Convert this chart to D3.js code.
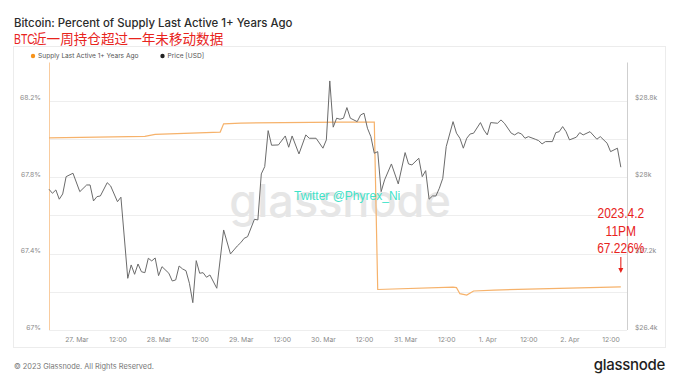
<!DOCTYPE html>
<html><head><meta charset="utf-8">
<script src="https://cdn.jsdelivr.net/npm/d3@7"></script>
<style>
html,body{margin:0;padding:0;background:#fff;}
svg{display:block;}
</style></head>
<body>
<svg id="chart" width="680" height="383"></svg>
<script>
// ---- DATA ----
const titleText = "Bitcoin: Percent of Supply Last Active 1+ Years Ago";
const subtitleLatin = "BTC";
const subtitleCJK = "近一周持仓超过一年未移动数据";
const seriesNames = ["Supply Last Active 1+ Years Ago", "Price [USD]"];
const startTime = Date.UTC(2023, 2, 26, 16, 0); // 26 Mar 16:00 UTC
const endTime = Date.UTC(2023, 3, 2, 16, 48);

// price: hours after start, USD
const priceHours = [0,1,2,3,4,5,7,9,11,12,13,14,15,17,18,20,21,23,24,25,26,27,28,29,30,31,32,33,35,36,37,38,39,40,41,42,43,44,45,46,47,49,51,53,54,55,56,57,58,60,61,62,63,64,65,67,69,70,71,73,75,76,78,80,81,82,83,84,85,86,87,88,90,91,92,93,94,95,96,97,98,100,102,104,105,106,108,109,110,111,112,113,114,115,116,118,119,120,121,122,123,124,126,127,128,129,131,132,133,135,136,137,138,139,140,142,143,144,145,147,148,149,150,151,152,154,155,156,158,160,161,163,164,166,167];
const priceValues = [27873,27831,27866,27769,27824,28005,28041,27848,27918,27918,27751,27796,27803,27942,27908,27743,27790,26941,27081,26983,27091,27010,27000,27151,27123,27154,26969,27063,26994,26913,26924,27070,27039,27021,26889,26686,27126,26994,27000,26952,26976,26837,27447,27196,27238,27280,27314,27360,27377,27559,27552,28034,28110,28487,28334,28337,28431,28313,28431,28243,28442,28407,28407,28303,28390,29007,28523,28617,28606,28617,28728,28617,28581,28651,28669,28512,28424,28250,28267,27848,27971,28138,27929,28257,28138,28128,28198,28005,28068,27769,27803,27803,27884,27988,28319,28581,28460,28407,28303,28407,28452,28460,28571,28494,28442,28571,28564,28599,28564,28460,28442,28466,28452,28407,28424,28397,28382,28348,28372,28372,28466,28476,28529,28476,28390,28418,28466,28442,28476,28397,28424,28355,28267,28303,28104];

// supply last active 1+ years: hours after start, percent
const supplyHours = [0,28,31,50,51,56,85,95,96,118,119,120,122,124,130,167];
const supplyValues = [68.006,68.013,68.024,68.036,68.079,68.083,68.088,68.088,67.212,67.224,67.222,67.190,67.183,67.204,67.209,67.226];

const leftTicks = [67, 67.2, 67.4, 67.6, 67.8, 68.0, 68.2, 68.4];
const leftLabelTicks = [67, 67.4, 67.8, 68.2];
const rightLabelTicks = [26400, 27200, 28000, 28800];
const annotationLines = ["2023.4.2", "11PM", "67.226%"];
const watermarkText = "glassnode";
const twitterText = "Twitter @Phyrex_Ni";
const footerText = "© 2023 Glassnode. All Rights Reserved.";

// ---- DRAW ----
const svg = d3.select("#chart");
const plot = {left: 49, right: 627, top: 62.5, bottom: 330};
const HOUR = 3600 * 1000;

const x = d3.scaleUtc().domain([new Date(startTime), new Date(endTime)]).range([plot.left, plot.right]);
const yL = d3.scaleLinear().domain([67, 68.4]).range([plot.bottom, plot.top]);
const yR = d3.scaleLinear().domain([26400, 29200]).range([plot.bottom, plot.top]);

const font = "Inter, 'Noto Sans', sans-serif";
const narrow = "'Liberation Sans', Arial, sans-serif";

// title
svg.append("text").attr("x", 14).attr("y", 27.3)
  .attr("font-family", font).attr("font-size", 11.4).attr("font-weight", 500)
  .attr("fill", "#2b2b2b").text(titleText);

// subtitle: narrow latin + CJK
svg.append("text").attr("transform", "translate(14,44) scale(0.72,1)")
  .attr("font-family", narrow).attr("font-size", 14.5).attr("fill", "#e8241d").text(subtitleLatin);
svg.append("text").attr("x", 33).attr("y", 44)
  .attr("font-family", "'Noto Sans CJK SC', sans-serif").attr("font-size", 13.6)
  .attr("fill", "#e8241d").text(subtitleCJK);

// chart frame
svg.append("rect").attr("x", 13.5).attr("y", 46.5).attr("width", 652).attr("height", 301)
  .attr("fill", "none").attr("stroke", "#ececec").attr("stroke-width", 1);

// legend
const legend = svg.append("g").attr("font-family", font).attr("font-size", 6.6).attr("fill", "#555");
legend.append("circle").attr("cx", 33).attr("cy", 56).attr("r", 2.2).attr("fill", "#f7931a");
legend.append("text").attr("x", 38).attr("y", 58.3).text(seriesNames[0]);
legend.append("circle").attr("cx", 162.5).attr("cy", 56).attr("r", 2.2).attr("fill", "#222");
legend.append("text").attr("x", 167.5).attr("y", 58.3).text(seriesNames[1]);

// gridlines
svg.append("g").selectAll("line").data(leftTicks.slice(0, 7)).join("line")
  .attr("x1", plot.left).attr("x2", plot.right)
  .attr("y1", d => Math.round(yL(d)) + 0.5).attr("y2", d => Math.round(yL(d)) + 0.5)
  .attr("stroke", "#eeeeee").attr("stroke-width", 1);

// watermark
svg.append("text").attr("x", 340).attr("y", 217).attr("text-anchor", "middle")
  .attr("font-family", font).attr("font-size", 45).attr("font-weight", 500)
  .attr("fill", "#e6e6e6").text(watermarkText);

// axis lines
svg.append("line").attr("x1", plot.left + 0.5).attr("x2", plot.left + 0.5).attr("y1", plot.top).attr("y2", plot.bottom)
  .attr("stroke", "#f9cc9f").attr("stroke-width", 1);
svg.append("line").attr("x1", plot.right + 0.5).attr("x2", plot.right + 0.5).attr("y1", plot.top).attr("y2", plot.bottom)
  .attr("stroke", "#cfcfcf").attr("stroke-width", 1);

// left axis
const leftAxis = d3.axisLeft(yL).tickValues(leftLabelTicks).tickSize(0).tickPadding(0)
  .tickFormat(d => d3.format("~g")(d) + "%");
svg.append("g").attr("transform", "translate(41,-3)").call(leftAxis)
  .call(g => g.select(".domain").remove())
  .call(g => g.selectAll("text").attr("font-family", font).attr("font-size", 6.8).attr("fill", "#8a8a8a"));

// right axis
const rightAxis = d3.axisRight(yR).tickValues(rightLabelTicks).tickSize(0).tickPadding(0)
  .tickFormat(d => "$" + d3.format("~g")(d / 1000) + "k");
svg.append("g").attr("transform", "translate(635,-3)").call(rightAxis)
  .call(g => g.select(".domain").remove())
  .call(g => g.selectAll("text").attr("font-family", font).attr("font-size", 6.8).attr("fill", "#8a8a8a"));

// x axis
const xFmt = d => d.getUTCHours() === 0 ? d3.utcFormat("%-d. %b")(d) : d3.utcFormat("%H:%M")(d);
const xAxis = d3.axisBottom(x).ticks(d3.utcHour.every(12)).tickSize(0).tickPadding(0).tickFormat(xFmt);
svg.append("g").attr("transform", "translate(0,337)").call(xAxis)
  .call(g => g.select(".domain").remove())
  .call(g => g.selectAll("text").attr("font-family", font).attr("font-size", 6.8).attr("fill", "#8a8a8a"));

// series
const priceData = priceHours.map((h, i) => ({t: new Date(startTime + h * HOUR), v: priceValues[i]}));
const supplyData = supplyHours.map((h, i) => ({t: new Date(startTime + h * HOUR), v: supplyValues[i]}));

svg.append("path").datum(supplyData)
  .attr("fill", "none").attr("stroke", "#f6b26b").attr("stroke-width", 1.2)
  .attr("d", d3.line().x(d => x(d.t)).y(d => yL(d.v)));

svg.append("path").datum(priceData)
  .attr("fill", "none").attr("stroke", "#6b6b6b").attr("stroke-width", 1)
  .attr("stroke-linejoin", "round")
  .attr("d", d3.line().x(d => x(d.t)).y(d => yR(d.v)));

// twitter text
svg.append("text").attr("x", 294).attr("y", 200)
  .attr("font-family", narrow).attr("font-size", 12)
  .attr("fill", "#3fe3c9").text(twitterText);

// annotation
const last = supplyData[supplyData.length - 1];
const ax = x(last.t);
annotationLines.forEach((s, i) => {
  svg.append("text").attr("transform", `translate(${ax},${218 + i * 17.5}) scale(0.8,1)`)
    .attr("text-anchor", "middle").attr("font-family", narrow).attr("font-size", 15)
    .attr("fill", "#e8241d").text(s);
});
svg.append("line").attr("x1", ax).attr("x2", ax).attr("y1", 257).attr("y2", 270)
  .attr("stroke", "#e8241d").attr("stroke-width", 1.1);
svg.append("path").attr("d", `M${ax - 2.5},268 L${ax + 2.5},268 L${ax},273 Z`).attr("fill", "#e8241d");

// footer
svg.append("text").attr("x", 14).attr("y", 368.5)
  .attr("font-family", font).attr("font-size", 7.4).attr("fill", "#777").text(footerText);
svg.append("text").attr("x", 665).attr("y", 370).attr("text-anchor", "end")
  .attr("font-family", font).attr("font-size", 15).attr("font-weight", 500).attr("letter-spacing", -0.3)
  .attr("fill", "#1e1e1e").text(watermarkText);
</script>
</body></html>
